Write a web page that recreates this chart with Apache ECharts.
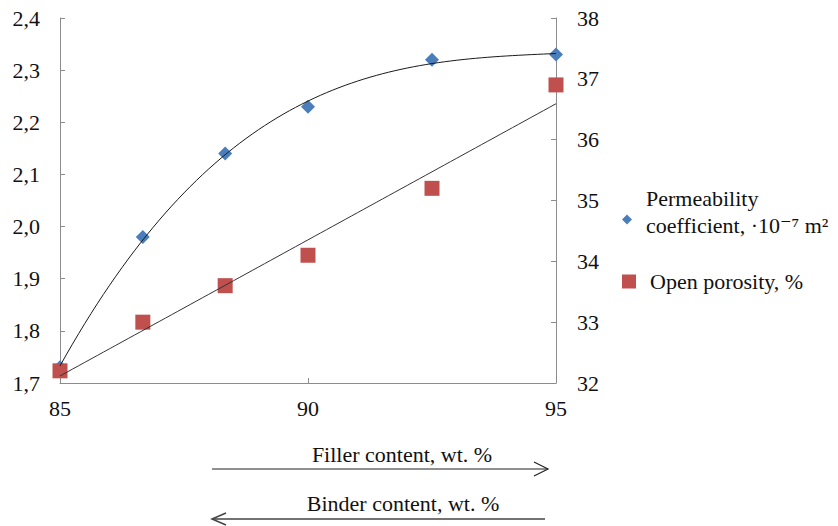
<!DOCTYPE html>
<html>
<head>
<meta charset="utf-8">
<script src="https://cdn.jsdelivr.net/npm/echarts@6/dist/echarts.min.js"></script>
<style>
  html, body { margin: 0; padding: 0; background: #fff; }
  #chart { width: 838px; height: 526px; }
</style>
</head>
<body>
<div id="chart"></div>
<script>
// filler content, wt. %
const fillerContent = [85, 86.67, 88.33, 90, 92.5, 95];
// permeability coefficient, 1e-7 m2 (left axis)
const permeability = [1.73, 1.98, 2.14, 2.23, 2.32, 2.33];
// open porosity, % (right axis)
const porosity = [32.2, 33.0, 33.6, 34.1, 35.2, 36.9];

const permName = 'Permeability coefficient, ·10⁻⁷ m²';
const poroName = 'Open porosity, %';
const serif = '"Liberation Serif", "DejaVu Serif", serif';

// least squares polynomial fit (trendlines like in the spreadsheet)
function polyfit(xs, ys, deg) {
  const n = deg + 1;
  const A = [];
  for (let i = 0; i < n; i++) {
    A.push(new Array(n + 1).fill(0));
  }
  xs.forEach((x0, k) => {
    const x = x0 - 90;
    for (let i = 0; i < n; i++) {
      for (let j = 0; j < n; j++) A[i][j] += Math.pow(x, i + j);
      A[i][n] += ys[k] * Math.pow(x, i);
    }
  });
  for (let c = 0; c < n; c++) {
    let p = c;
    for (let r = c + 1; r < n; r++) if (Math.abs(A[r][c]) > Math.abs(A[p][c])) p = r;
    [A[c], A[p]] = [A[p], A[c]];
    for (let r = 0; r < n; r++) {
      if (r === c) continue;
      const f = A[r][c] / A[c][c];
      for (let k = c; k <= n; k++) A[r][k] -= f * A[c][k];
    }
  }
  const coef = A.map((row, i) => row[n] / row[i]);
  return x => coef.reduce((s, a, i) => s + a * Math.pow(x - 90, i), 0);
}

function trendPoints(fn) {
  const pts = [];
  const steps = 80;
  for (let i = 0; i <= steps; i++) {
    const x = 85 + (10 * i) / steps;
    pts.push([x, fn(x)]);
  }
  return pts;
}

const permTrend = trendPoints(polyfit(fillerContent, permeability, 3));
const poroTrend = trendPoints(polyfit(fillerContent, porosity, 1));

const chart = echarts.init(document.getElementById('chart'), null, { renderer: 'svg' });

const axisLine = { show: true, lineStyle: { color: '#8c8c8c', width: 1 } };
const axisTick = { show: true, inside: true, length: 5, lineStyle: { color: '#8c8c8c' } };
const labelStyle = { fontFamily: serif, fontSize: 22, color: '#111' };

chart.setOption({
  backgroundColor: '#fff',
  animation: false,
  grid: { left: 60, right: 282, top: 18, bottom: 143 },
  xAxis: {
    type: 'value',
    min: 85,
    max: 95,
    interval: 5,
    axisLine: axisLine,
    axisTick: axisTick,
    splitLine: { show: false },
    axisLabel: Object.assign({ margin: 14 }, labelStyle)
  },
  yAxis: [
    {
      type: 'value',
      min: 1.7,
      max: 2.4,
      interval: 0.1,
      axisLine: axisLine,
      axisTick: axisTick,
      splitLine: { show: false },
      axisLabel: Object.assign({
        margin: 20,
        formatter: v => v.toFixed(1).replace('.', ',')
      }, labelStyle)
    },
    {
      type: 'value',
      min: 32,
      max: 38,
      interval: 1,
      position: 'right',
      axisLine: axisLine,
      axisTick: axisTick,
      splitLine: { show: false },
      axisLabel: Object.assign({ margin: 21 }, labelStyle)
    }
  ],
  legend: [
    {
      data: [{ name: permName, icon: 'diamond' }],
      orient: 'vertical',
      left: 622,
      top: 187,
      padding: 0,
      itemWidth: 10,
      itemHeight: 10,
      selectedMode: false,
      // two text lines, an empty short third line pushes the icon down a bit
      formatter: name => '{a|' + name.replace('Permeability ', 'Permeability}\n{a|') + '}\n{b| }',
      textStyle: {
        fontFamily: serif, fontSize: 22, color: '#111', padding: [0, 0, 0, 9],
        rich: {
          a: { fontFamily: serif, fontSize: 22, lineHeight: 27, color: '#111' },
          b: { fontSize: 10, lineHeight: 16 }
        }
      }
    },
    {
      data: [{ name: poroName, icon: 'rect' }],
      orient: 'vertical',
      left: 622,
      top: 268,
      padding: 0,
      itemWidth: 14,
      itemHeight: 14,
      selectedMode: false,
      textStyle: { fontFamily: serif, fontSize: 22, lineHeight: 27, color: '#111', padding: [0, 0, 0, 9] }
    }
  ],
  series: [
    {
      name: permName,
      type: 'scatter',
      yAxisIndex: 0,
      symbol: 'diamond',
      symbolSize: 14,
      itemStyle: { color: '#4a7ebb', opacity: 1 },
      data: fillerContent.map((x, i) => [x, permeability[i]]),
      z: 3
    },
    {
      name: poroName,
      type: 'scatter',
      yAxisIndex: 1,
      symbol: 'rect',
      symbolSize: 15,
      itemStyle: { color: '#c0504d', opacity: 1 },
      data: fillerContent.map((x, i) => [x, porosity[i]]),
      z: 4
    },
    {
      name: 'perm trend',
      type: 'line',
      yAxisIndex: 0,
      showSymbol: false,
      silent: true,
      lineStyle: { color: '#1a1a1a', width: 1 },
      data: permTrend,
      z: 5
    },
    {
      name: 'poro trend',
      type: 'line',
      yAxisIndex: 1,
      showSymbol: false,
      silent: true,
      lineStyle: { color: '#333', width: 1 },
      data: poroTrend,
      z: 5
    }
  ],
  graphic: [
    {
      type: 'text',
      style: {
        x: 402, y: 454,
        text: 'Filler content, wt. %',
        fontFamily: serif, fontSize: 22, fill: '#111',
        align: 'center', verticalAlign: 'middle'
      }
    },
    {
      type: 'text',
      style: {
        x: 403, y: 503,
        text: 'Binder content, wt. %',
        fontFamily: serif, fontSize: 22, fill: '#111',
        align: 'center', verticalAlign: 'middle'
      }
    },
    {
      type: 'polyline',
      shape: { points: [[212, 469], [548, 469]] },
      style: { stroke: '#222', lineWidth: 1.2, fill: null }
    },
    {
      type: 'polyline',
      shape: { points: [[534, 462], [548, 469], [534, 476]] },
      style: { stroke: '#222', lineWidth: 1.2, fill: null }
    },
    {
      type: 'polyline',
      shape: { points: [[212, 519], [545, 519]] },
      style: { stroke: '#444', lineWidth: 1.5, fill: null }
    },
    {
      type: 'polyline',
      shape: { points: [[226, 513], [212, 519], [226, 525]] },
      style: { stroke: '#444', lineWidth: 1.5, fill: null }
    }
  ]
});
</script>
</body>
</html>
